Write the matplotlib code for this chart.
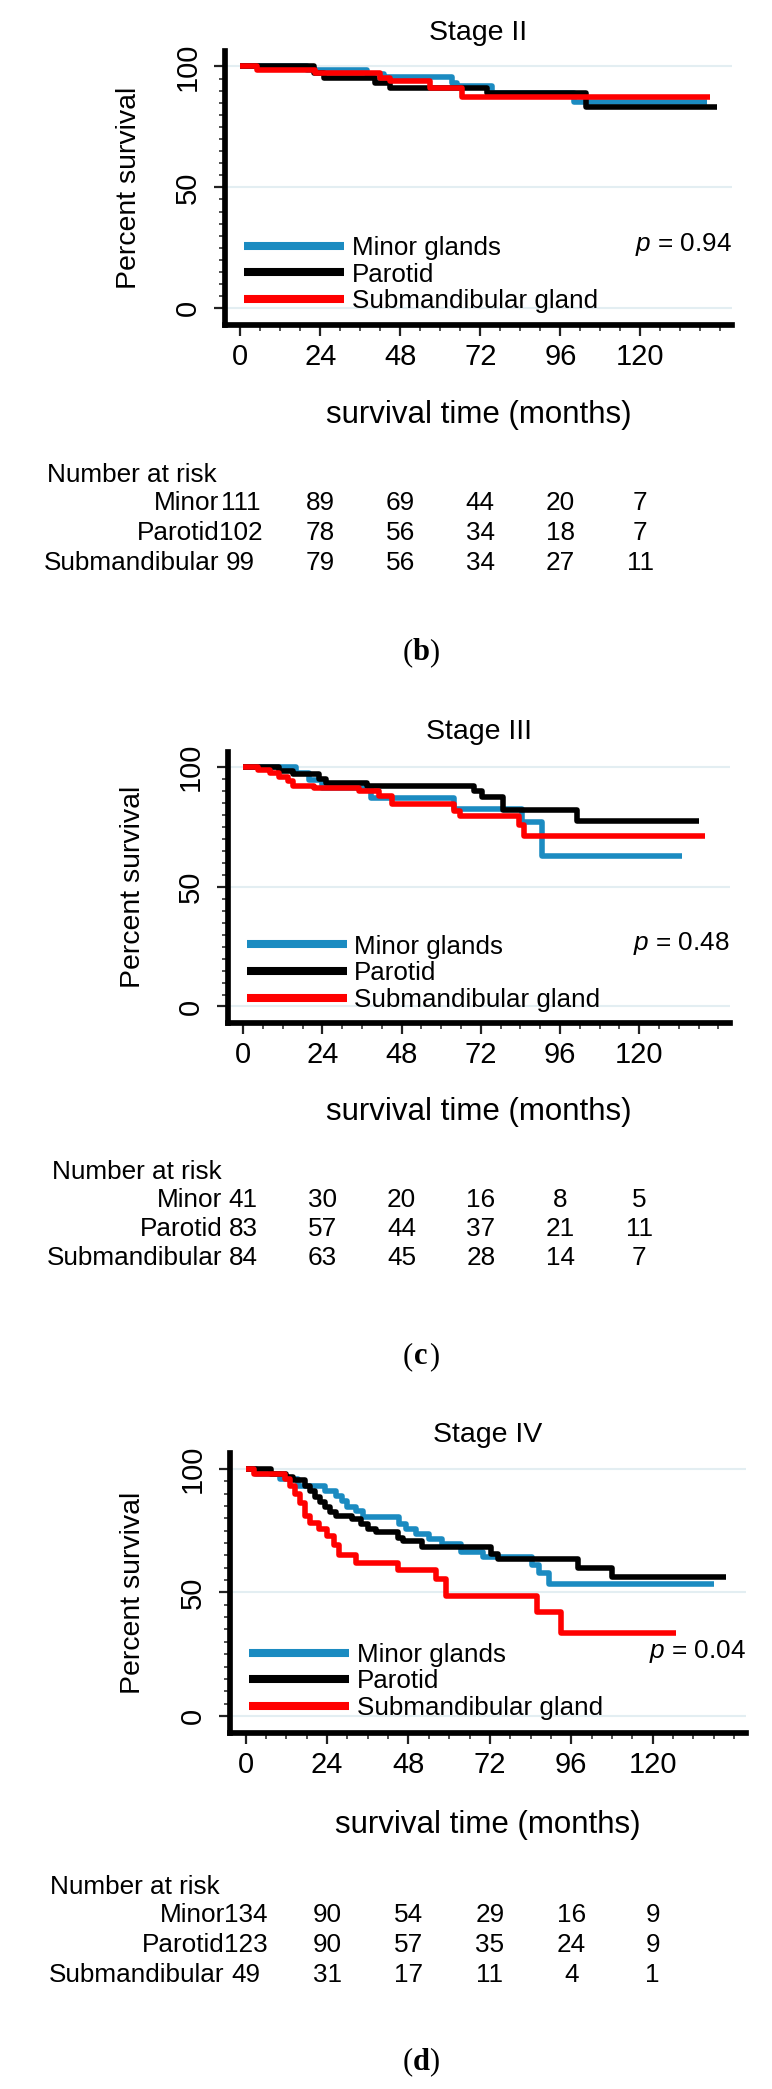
import matplotlib.pyplot as plt
import matplotlib.transforms as mtransforms

plt.rcParams['font.family'] = ['Liberation Sans', 'DejaVu Sans']
plt.rcParams['mathtext.fontset'] = 'custom'
plt.rcParams['mathtext.it'] = 'Liberation Sans:italic'
plt.rcParams['mathtext.rm'] = 'Liberation Sans'

groups = ["Minor glands", "Parotid", "Submandibular gland"]
risk_names = ["Minor", "Parotid", "Submandibular"]
colors = ["#1b8bc1", "#000000", "#ff0000"]
risk_times = [0, 24, 48, 72, 96, 120]

# Stage II
s2_minor_t = [0, 20, 38, 43, 63.5, 65, 75.5, 100, 140]
s2_minor_s = [100, 98.4, 97, 95.6, 93, 92, 89.2, 85.5, 85.5]
s2_parotid_t = [0, 22, 25, 40.5, 45, 74, 103.8, 143]
s2_parotid_s = [100, 97.3, 95.2, 93.1, 91.2, 89, 83.4, 83.4]
s2_sub_t = [0, 5, 22.5, 42, 45, 57, 66.5, 141]
s2_sub_s = [100, 98.6, 97.2, 95.2, 93.9, 91.1, 87.2, 87.2]
s2_risk = [[111, 89, 69, 44, 20, 7], [102, 78, 56, 34, 18, 7], [99, 79, 56, 34, 27, 11]]

# Stage III
s3_minor_t = [0, 16, 20, 24, 38.8, 64, 84.6, 90.5, 133]
s3_minor_s = [100, 97.5, 94.5, 91.5, 87.2, 82.4, 77, 63, 63]
s3_parotid_t = [0, 11, 15, 23, 25, 37.5, 70, 72.5, 78.6, 101, 138]
s3_parotid_s = [100, 98.5, 97.3, 95, 93.5, 92.3, 90, 87.7, 82, 77.6, 77.6]
s3_sub_t = [0, 4.5, 8, 11, 13.5, 15, 21.5, 35, 41, 45, 64, 65.6, 83.5, 85, 140]
s3_sub_s = [100, 99, 97.6, 96, 94.2, 92.1, 91.4, 90, 87.9, 84.5, 81.7, 79.5, 76, 71.3, 71.3]
s3_risk = [[41, 30, 20, 16, 8, 5], [83, 57, 44, 37, 21, 11], [84, 63, 45, 28, 14, 7]]

# Stage IV
s4_minor_t = [0, 3, 10, 15.5, 23.5, 26.5, 28.5, 30, 32.5, 34.5, 45.3, 47.2, 50.2, 54, 58,
              63.5, 70, 84.5, 86.5, 89.5, 138]
s4_minor_s = [100, 98, 96, 93, 91.2, 89, 87, 84.4, 83, 80.4, 77.6, 75.6, 73.6, 71.5, 69.5,
              66.2, 64.2, 61, 58, 53.3, 53.3]
s4_parotid_t = [0, 7.5, 12, 14, 17.5, 19, 20.5, 22, 23.5, 25, 26.5, 31.5, 34, 36, 38.5, 45,
                46.5, 52, 72.3, 74.5, 98, 108, 141.5]
s4_parotid_s = [100, 98, 96.5, 95.3, 93.2, 91.2, 88.5, 86.5, 84.4, 82.4, 81, 79.7, 77.6, 75.6,
                74.3, 72.2, 70.9, 68.2, 65.5, 63.4, 60, 56.4, 56.4]
s4_sub_t = [0, 2.5, 11.5, 13, 14.5, 16, 17.5, 19, 21.5, 24, 26, 27.5, 32.5, 45, 56, 59, 86, 93, 127]
s4_sub_s = [100, 98, 96, 93, 90, 86, 81, 78, 75.6, 73, 69, 65, 62, 59, 55.5, 48.5, 42, 33.7, 33.7]
s4_risk = [[134, 90, 54, 29, 16, 9], [123, 90, 57, 35, 24, 9], [49, 31, 17, 11, 4, 1]]

panels = [
    ("Stage II", "0.94", "b", [(s2_minor_t, s2_minor_s), (s2_parotid_t, s2_parotid_s), (s2_sub_t, s2_sub_s)], s2_risk),
    ("Stage III", "0.48", "c", [(s3_minor_t, s3_minor_s), (s3_parotid_t, s3_parotid_s), (s3_sub_t, s3_sub_s)], s3_risk),
    ("Stage IV", "0.04", "d", [(s4_minor_t, s4_minor_s), (s4_parotid_t, s4_parotid_s), (s4_sub_t, s4_sub_s)], s4_risk),
]

W, H = 772, 2089
# pixel layout of each panel: axes box, text rows
boxes = [(225, 732, 51, 325), (228, 730, 752, 1023), (230, 746, 1453, 1733)]
title_y = [33, 732, 1435]
ylab_x = [129, 133, 133]
xlab_y = [415, 1112, 1825]
nar_xy = [(47, 475), (52, 1172), (50, 1887)]
rows_y = [[503, 533, 563], [1200, 1229, 1258], [1915, 1945, 1975]]
tag_y = [653, 1357, 2062]

fig = plt.figure(figsize=(W / 100, H / 100), dpi=100)

for i, (title, pval, tag, curves, risk) in enumerate(panels):
    L, R, T, B = boxes[i]
    ax = fig.add_axes([L / W, 1 - B / H, (R - L) / W, (B - T) / H])
    ax.set_xlim(-4.6, 147.5)
    ax.set_ylim(-6.9, 106.4)

    for (t, s), c, g in zip(curves, colors, groups):
        ax.step(t, s, where='post', color=c, lw=4.0, label=g, solid_capstyle='butt')

    ax.spines['top'].set_visible(False)
    ax.spines['right'].set_visible(False)
    ax.spines['left'].set_linewidth(4.1)
    ax.spines['bottom'].set_linewidth(4.1)
    ax.set_yticks([0, 50, 100])
    ax.set_yticks(range(0, 101, 5), minor=True)
    ax.set_xticks(risk_times)
    ax.set_xticks(range(0, 145, 6), minor=True)
    ax.yaxis.grid(True, color='#e3eef2', lw=1.5)
    ax.set_axisbelow(True)
    ax.tick_params(axis='both', which='major', length=8, width=1.6, labelsize=21, color='#222222')
    ax.tick_params(axis='both', which='minor', length=4, width=1.2, color='#333333')
    ax.tick_params(axis='x', which='major', pad=5)
    ax.tick_params(axis='y', which='major', pad=9)
    for lab in ax.get_yticklabels():
        lab.set_rotation(90)
        lab.set_va('center')

    leg = ax.legend(loc='center left', bbox_to_anchor=(0.037, 0.184), frameon=False, fontsize=18.7,
                    handlelength=3.85, handletextpad=0.3, labelspacing=0.1, borderpad=0,
                    borderaxespad=0)
    for h in leg.get_lines():
        h.set_linewidth(5.8)
    ax.text(1.0, 0.292, r'$\it{p}$ = ' + pval, transform=ax.transAxes, ha='right', va='center',
            fontsize=18.8)
    ax.text(0.5, (B - title_y[i]) / (B - T), title, transform=ax.transAxes, ha='center',
            va='center', fontsize=20.5)
    ax.text(0.5, (B - xlab_y[i]) / (B - T), "survival time (months)", transform=ax.transAxes,
            ha='center', va='center', fontsize=22.5)
    y50 = ax.transData.transform((0, 50))[1]
    fig.text(ylab_x[i] / W, y50 / H, "Percent survival", rotation=90, ha='center', va='center',
             fontsize=20.5)

    # number at risk table
    fig.text(nar_xy[i][0] / W, 1 - nar_xy[i][1] / H, "Number at risk", ha='left', va='center',
             fontsize=18.8)
    trans = mtransforms.blended_transform_factory(ax.transData, fig.transFigure)
    for name, counts, ry in zip(risk_names, risk, rows_y[i]):
        yf = 1 - ry / H
        ax.annotate(name, xy=(risk_times[0], yf), xycoords=trans, xytext=(-15, 0),
                    textcoords='offset points', ha='right', va='center', fontsize=18.8,
                    annotation_clip=False)
        for tt, n in zip(risk_times, counts):
            ax.text(tt, yf, str(n), transform=trans, ha='center', va='center', fontsize=18.8,
                    clip_on=False)

    # panel tag (b), (c), (d)
    ty = 1 - tag_y[i] / H
    fig.text(413 / W, ty, "(", ha='right', va='center', fontsize=22, family='Liberation Serif')
    fig.text(421 / W, ty, tag, ha='center', va='center', fontsize=22, family='Liberation Serif',
             weight='bold')
    fig.text(429 / W, ty, ")", ha='left', va='center', fontsize=22, family='Liberation Serif')

fig.savefig('out.png', dpi=100)
